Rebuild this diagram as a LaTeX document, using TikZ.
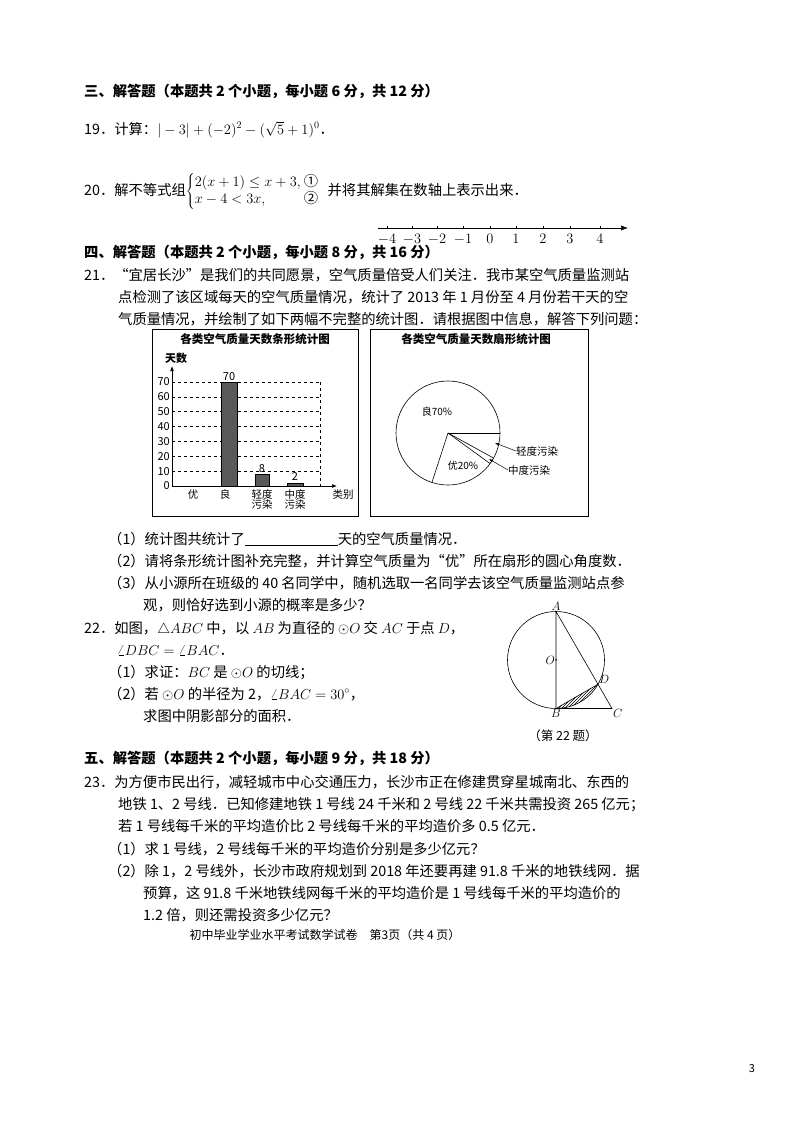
\documentclass[tikz,border=0pt]{standalone}
\usepackage{fontspec}
\setmainfont{Noto Sans CJK SC}
\usetikzlibrary{arrows.meta,patterns,calc}
\newsavebox\sysbox
\begin{document}
\sbox\sysbox{\fontsize{14.3}{17}\selectfont$\left\{\begin{array}{@{}l@{\ }l}2(x+1)\le x+3, & \mbox{①}\\ x-4<3x, & \mbox{②}\end{array}\right.$}
\begin{tikzpicture}[x=1pt,y=-1pt,
  t/.style={anchor=base west,inner sep=0pt,font=\fontsize{14.3}{17}\selectfont},
  h/.style={t,font=\fontsize{14.3}{17}\selectfont\bfseries},
  s/.style={inner sep=0pt,font=\fontsize{11}{12}\selectfont},
  ln/.style={line width=0.6pt}]
\useasboundingbox[fill=white] (0,0) rectangle (800,1132);
% Section 3
\node[h] (h3) at (84,96) {三、解答题（本题共 2 个小题，每小题 6 分，共 12 分）};
\node[t] (q19) at (84,134) {19．计算：$|-3|+(-2)^2-(\sqrt{5}+1)^0$．};
\node[t] (q20) at (84,195) {20．解不等式组\usebox\sysbox\ 并将其解集在数轴上表示出来．};
% number line
\coordinate (nl0) at (378,228);
\coordinate (nl1) at (628,228);
\draw[ln,-{Latex[length=7pt]}] (nl0) -- (nl1);
\foreach \v/\x in {-4/387,-3/412,-2/437,-1/463,0/490,1/516,2/543,3/570,4/600}{
  \draw[line width=0.4pt] (\x,228) -- (\x,226);
  \node[anchor=base,inner sep=0pt,font=\fontsize{14}{15}\selectfont] (n\x) at (\x,243) {$\v$};}
% Section 4
\node[h] (h4) at (84,257) {四、解答题（本题共 2 个小题，每小题 8 分，共 16 分）};
\node[t] (q21a) at (84,280) {21．“宜居长沙”是我们的共同愿景，空气质量倍受人们关注．我市某空气质量监测站};
\node[t] (q21b) at (118,302) {点检测了该区域每天的空气质量情况，统计了 2013 年 1 月份至 4 月份若干天的空};
\node[t] (q21c) at (118,324) {气质量情况，并绘制了如下两幅不完整的统计图．请根据图中信息，解答下列问题：};
% bar chart
\draw[line width=1pt] (152,329) rectangle (358,516);
\node[s,font=\fontsize{11.5}{12}\selectfont\bfseries] (bt) at (255,339) {各类空气质量天数条形统计图};
\node[s,font=\fontsize{11}{12}\selectfont\bfseries] (yl) at (176,358) {天数};
\draw[ln,-{Latex[length=5pt]}] (172,486) -- (172,366);
\draw[ln,-{Latex[length=5pt]}] (172,486) -- (337,486);
\foreach \v in {10,20,...,70}{
  \draw[dashed,line width=0.5pt] (172,{486-\v*1.486}) -- (320,{486-\v*1.486});
  \node[s,anchor=east] (yt\v) at (170,{486-\v*1.486}) {\v};}
\node[s,anchor=east] (yt0) at (170,486) {0};
\draw[dashed,line width=0.5pt] (320,382) -- (320,486);
\fill[black!65] (221,{486-70*1.486}) rectangle (237,486);
\fill[black!65] (255,{486-8*1.486}) rectangle (269,486);
\fill[black!65] (287,{486-2*1.486}) rectangle (303,486);
\draw[line width=0.4pt] (221,{486-70*1.486}) rectangle (237,486);
\draw[line width=0.4pt] (255,{486-8*1.486}) rectangle (269,486);
\draw[line width=0.4pt] (287,{486-2*1.486}) rectangle (303,486);
\node[s,anchor=south] (b70) at (229,381) {70};
\node[s,anchor=south] (b8) at (262,473) {8};
\node[s,anchor=south] (b2) at (295,481) {2};
\node[s,anchor=north,font=\fontsize{10.5}{10}\selectfont] (c1) at (193,489) {优};
\node[s,anchor=north,font=\fontsize{10.5}{10}\selectfont] (c2) at (225,489) {良};
\node[s,anchor=north,align=center,font=\fontsize{10.5}{10}\selectfont] (c3) at (262,489) {轻度\\污染};
\node[s,anchor=north,align=center,font=\fontsize{10.5}{10}\selectfont] (c4) at (295,489) {中度\\污染};
\node[s,anchor=north,font=\fontsize{10.5}{10}\selectfont] (c5) at (343,489) {类别};
% pie chart
\draw[line width=1pt] (370,329) rectangle (588,516);
\node[s,font=\fontsize{11.5}{12}\selectfont\bfseries] (pt) at (476,339) {各类空气质量天数扇形统计图};
\coordinate (pc) at (448,433);
\draw[ln] (pc) circle (52);
\draw[ln] (pc) -- ++(0:52);
\draw[ln] (pc) -- ++(108:52);
\draw[ln] (pc) -- ++(36:52);
\draw[ln] (pc) -- ++(28.8:52);
\node[s,font=\fontsize{10}{10}\selectfont] (p1) at (437,412) {良70\%};
\node[s,font=\fontsize{10}{10}\selectfont] (p2) at (463,466) {优20\%};
\node[s,anchor=west,font=\fontsize{10.5}{10}\selectfont] (p3) at (516,451) {轻度污染};
\node[s,anchor=west,font=\fontsize{10.5}{10}\selectfont] (p4) at (508,470) {中度污染};
\coordinate (a3) at (495,443);
\coordinate (a4) at (489,459);
\draw[line width=0.5pt,-{Latex[length=4pt]}] (p3.west) -- (a3);
\draw[line width=0.5pt,-{Latex[length=4pt]}] (p4.west) -- (a4);
% 21 sub-questions
\node[t] (s1) at (108,544) {（1）统计图共统计了\underline{\hspace{6.5em}}天的空气质量情况．};
\node[t] (s2) at (108,566) {（2）请将条形统计图补充完整，并计算空气质量为“优”所在扇形的圆心角度数．};
\node[t] (s3) at (108,588) {（3）从小源所在班级的 40 名同学中，随机选取一名同学去该空气质量监测站点参};
\node[t] (s3b) at (143,610) {观，则恰好选到小源的概率是多少？};
% 22
\node[t] (q22) at (84,633) {22．如图，$\triangle ABC$ 中，以 $AB$ 为直径的 $\odot O$ 交 $AC$ 于点 $D$，};
\node[t] (q22b) at (117,655) {$\angle DBC=\angle BAC$．};
\node[t] (q22c) at (108,677) {（1）求证：$BC$ 是 $\odot O$ 的切线；};
\node[t] (q22d) at (108,699) {（2）若 $\odot O$ 的半径为 2，$\angle BAC=30^\circ$，};
\node[t] (q22e) at (143,721) {求图中阴影部分的面积．};
% geometry
\coordinate (O) at (556,660);
\coordinate (A) at (556,611.5);
\coordinate (B) at (556,708.5);
\coordinate (C) at (612,708.5);
\coordinate (D) at ($(O)+(30:48.5)$);
\begin{scope}
  \clip (B) arc (90:30:48.5) -- cycle;
  \fill[pattern=north east lines] (540,670) rectangle (610,712);
\end{scope}
\draw[ln] (O) circle (48.5);
\draw[ln] (A) -- (B) -- (C) -- cycle;
\draw[ln] (B) -- (D);
\fill (O) circle (0.8);
\node[font=\fontsize{13}{14}\selectfont,inner sep=1pt,anchor=south] (lA) at (A) {$A$};
\node[font=\fontsize{13}{14}\selectfont,inner sep=1pt,anchor=north] (lB) at (B) {$B$};
\node[font=\fontsize{13}{14}\selectfont,inner sep=1pt,anchor=north west] (lC) at (C) {$C$};
\node[font=\fontsize{13}{14}\selectfont,inner sep=1pt,anchor=south west] (lD) at (D) {$D$};
\node[font=\fontsize{13}{14}\selectfont,inner sep=1pt,anchor=east] (lO) at (O) {$O$};
\node[inner sep=0pt,font=\fontsize{12.5}{13}\selectfont] (cap) at (563,736) {（第 22 题）};
% Section 5
\node[h] (h5) at (84,763) {五、解答题（本题共 2 个小题，每小题 9 分，共 18 分）};
\node[t] (q23a) at (84,787) {23．为方便市民出行，减轻城市中心交通压力，长沙市正在修建贯穿星城南北、东西的};
\node[t] (q23b) at (118,809) {地铁 1、2 号线．已知修建地铁 1 号线 24 千米和 2 号线 22 千米共需投资 265 亿元；};
\node[t] (q23c) at (118,831) {若 1 号线每千米的平均造价比 2 号线每千米的平均造价多 0.5 亿元．};
\node[t] (q23d) at (108,854) {（1）求 1 号线，2 号线每千米的平均造价分别是多少亿元？};
\node[t] (q23e) at (108,876) {（2）除 1，2 号线外，长沙市政府规划到 2018 年还要再建 91.8 千米的地铁线网．据};
\node[t] (q23f) at (143,898) {预算，这 91.8 千米地铁线网每千米的平均造价是 1 号线每千米的平均造价的};
\node[t] (q23g) at (143,920) {1.2 倍，则还需投资多少亿元？};
\node[anchor=base,inner sep=0pt,font=\fontsize{12}{13}\selectfont] (foot) at (325,939) {初中毕业学业水平考试数学试卷\quad 第3页（共 4 页）};
\node[anchor=base,inner sep=0pt,font=\fontsize{11}{12}\selectfont] (pg) at (752,1072) {3};
\end{tikzpicture}
\end{document}
